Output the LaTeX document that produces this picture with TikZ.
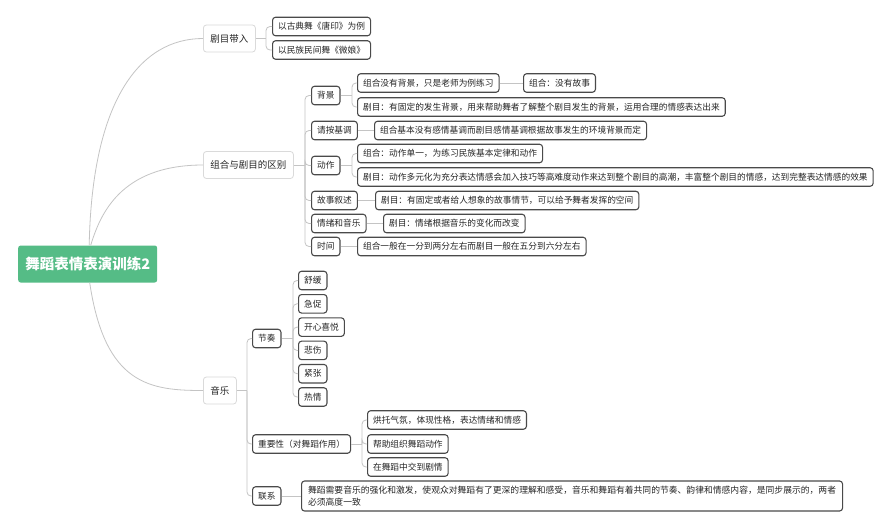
\documentclass[tikz,border=0pt]{standalone}
\usepackage{fontspec}
\setmainfont{Noto Sans CJK SC}
\definecolor{rootgreen}{HTML}{55BC86}
\definecolor{txt}{HTML}{262626}
\definecolor{boxline}{HTML}{4A4A4A}
\definecolor{lonebox}{HTML}{DADADA}
\definecolor{linkgray}{HTML}{C4C4C4}
\tikzset{
  rootbox/.style={fill=rootgreen, text=white, rounded corners=2.5pt, font=\fontsize{14.5}{17}\selectfont\bfseries,
    minimum width=139pt, minimum height=37pt, inner sep=0pt, anchor=west},
  topic/.style={draw=lonebox, line width=0.8pt, fill=white, rounded corners=3pt, text=txt,
    font=\fontsize{9.5}{11}\selectfont, minimum height=27pt, inner xsep=7pt, inner ysep=0pt, anchor=west},
  leaf/.style={draw=boxline, line width=1.1pt, fill=white, rounded corners=3pt, text=txt,
    font=\fontsize{8.7}{11}\selectfont, minimum height=18.5pt, inner xsep=5.5pt, inner ysep=0pt, anchor=west},
  link/.style={draw=linkgray, line width=0.8pt},
  elbow/.style={link, rounded corners=4pt}
}
\begin{document}
\begin{tikzpicture}[x=1pt,y=-1pt]
\useasboundingbox[fill=white] (0,0) rectangle (890,528);

% root
\node[rootbox] (root) at (18,264) {舞蹈表情表演训练2};

% level 1
\node[topic] (a) at (203,38.5) {剧目带入};
\node[topic] (b) at (203,165) {组合与剧目的区别};
\node[topic] (c) at (203,390.5) {音乐};

\draw[link] ([xshift=1.5pt]root.north) .. controls (92,100) and (140,38.5) .. (a.west);
\draw[link] ([xshift=3pt]root.north) .. controls (100,215) and (120,165) .. (b.west);
\draw[link] ([xshift=2pt]root.south) .. controls (105,385) and (150,390.5) .. (c.west);

% 剧目带入
\node[leaf] (a1) at (272,26.5) {以古典舞《唐印》为例};
\node[leaf] (a2) at (272,50) {以民族民间舞《微娘》};
\coordinate (ja) at (266,38.5);
\draw[link] (a.east) -- (ja);
\foreach \n in {a1,a2} \draw[elbow] (ja) |- (\n.west);

% 组合与剧目的区别
\node[leaf] (b1) at (311,95.5) {背景};
\node[leaf] (b2) at (311,130.5) {请按基调};
\node[leaf] (b3) at (311,165.5) {动作};
\node[leaf] (b4) at (311,200.5) {故事叙述};
\node[leaf] (b5) at (311,223.5) {情绪和音乐};
\node[leaf] (b6) at (311,246.5) {时间};
\coordinate (jb) at (305,165);
\draw[link] (b.east) -- (jb);
\foreach \n in {b1,b2,b3,b4,b5,b6} \draw[elbow] (jb) |- (\n.west);

% 背景
\node[leaf] (b11) at (357,83) {组合没有背景，只是老师为例练习\hspace{8pt}};
\node[leaf] (b111) at (523,83) {组合：没有故事};
\node[leaf] (b12) at (357,107) {剧目：有固定的发生背景，用来帮助舞者了解整个剧目发生的背景，运用合理的情感表达出来};
\coordinate (jb1) at (352,95.5);
\draw[link] (b1.east) -- (jb1);
\foreach \n in {b11,b12} \draw[elbow] (jb1) |- (\n.west);
\draw[link] (b11.east) -- (b111.west);

% 请按基调
\node[leaf] (b21) at (374,130.5) {组合基本没有感情基调而剧目感情基调根据故事发生的环境背景而定};
\draw[link] (b2.east) -- (b21.west);

% 动作
\node[leaf] (b31) at (357,153.5) {组合：动作单一，为练习民族基本定律和动作};
\node[leaf] (b32) at (357,177) {剧目：动作多元化为充分表达情感会加入技巧等高难度动作来达到整个剧目的高潮，丰富整个剧目的情感，达到完整表达情感的效果};
\coordinate (jb3) at (352,165.5);
\draw[link] (b3.east) -- (jb3);
\foreach \n in {b31,b32} \draw[elbow] (jb3) |- (\n.west);

% 故事叙述 / 情绪和音乐 / 时间
\node[leaf] (b41) at (375,200.5) {剧目：有固定或者给人想象的故事情节，可以给予舞者发挥的空间};
\draw[link] (b4.east) -- (b41.west);
\node[leaf] (b51) at (383,223.5) {剧目：情绪根据音乐的变化而改变};
\draw[link] (b5.east) -- (b51.west);
\node[leaf] (b61) at (357,246.5) {组合一般在一分到两分左右而剧目一般在五分到六分左右};
\draw[link] (b6.east) -- (b61.west);

% 音乐
\node[leaf] (c1) at (252,338.5) {节奏};
\node[leaf] (c2) at (252,444) {重要性（对舞蹈作用）};
\node[leaf] (c3) at (252,496) {联系};
\coordinate (jc) at (247,390.5);
\draw[link] (c.east) -- (jc);
\foreach \n in {c1,c2,c3} \draw[elbow] (jc) |- (\n.west);

% 节奏
\node[leaf] (c11) at (298,280.5) {舒缓};
\node[leaf] (c12) at (298,303.8) {急促};
\node[leaf] (c13) at (298,327.1) {开心喜悦};
\node[leaf] (c14) at (298,350.4) {悲伤};
\node[leaf] (c15) at (298,373.7) {紧张};
\node[leaf] (c16) at (298,397) {热情};
\coordinate (jc1) at (293,338.5);
\draw[link] (c1.east) -- (jc1);
\foreach \n in {c11,c12,c13,c14,c15,c16} \draw[elbow] (jc1) |- (\n.west);

% 重要性
\node[leaf] (c21) at (367,420) {烘托气氛，体现性格，表达情绪和情感};
\node[leaf] (c22) at (367,444) {帮助组织舞蹈动作};
\node[leaf] (c23) at (367,467) {在舞蹈中交到剧情};
\coordinate (jc2) at (362,444);
\draw[link] (c2.east) -- (jc2);
\foreach \n in {c21,c22,c23} \draw[elbow] (jc2) |- (\n.west);

% 联系
\node[leaf, align=left, minimum height=30pt, font=\fontsize{8.8}{12}\selectfont, inner xsep=6.5pt] (c31) at (301,496)
  {舞蹈需要音乐的强化和激发，使观众对舞蹈有了更深的理解和感受，音乐和舞蹈有着共同的节奏、韵律和情感内容，是同步展示的，两者\\必须高度一致};
\draw[link] (c3.east) -- (c31.west);
\end{tikzpicture}
\end{document}
